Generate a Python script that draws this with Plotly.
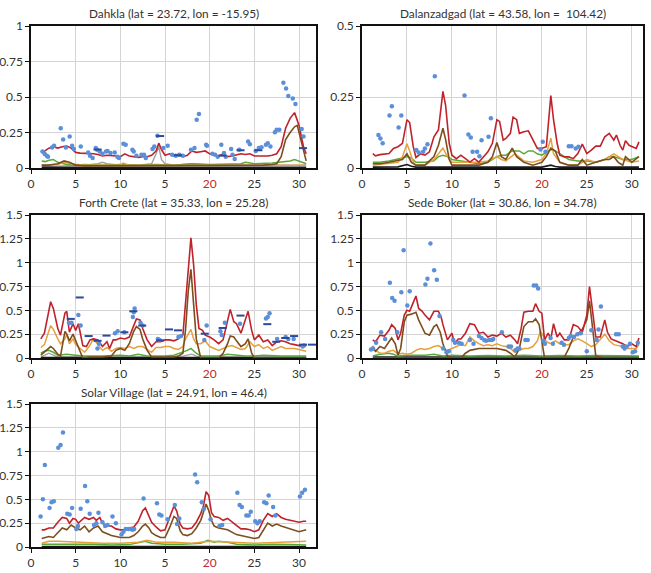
import plotly.graph_objects as go

# ---------------- data (day of month, value) ----------------
days_ticks = [0, 5, 10, 15, 20, 25, 30]
day_labels = ['0', '5', '10', '5', '20', '25', '30']

titles = ['Dahkla (lat = 23.72, lon = -15.95)',
          'Dalanzadgad (lat = 43.58, lon =  104.42)',
          'Forth Crete (lat = 35.33, lon = 25.28)',
          'Sede Boker (lat = 30.86, lon = 34.78)',
          'Solar Village (lat = 24.91, lon = 46.4)']

# ---- Dahkla ----
dah_red = [(1.2,0.105),(1.6,0.12),(2,0.14),(2.5,0.15),(3,0.14),(3.5,0.15),(4,0.155),(4.5,0.14),(5,0.11),(5.5,0.105),
           (6,0.105),(7,0.1),(7.5,0.095),(8,0.085),(8.5,0.09),(9,0.09),(9.5,0.085),(10,0.08),(10.5,0.1),(11,0.085),
           (11.5,0.08),(12,0.075),(12.5,0.08),(13,0.08),(13.5,0.09),(14,0.12),(14.3,0.175),(14.6,0.13),(15,0.09),(15.5,0.1),
           (16,0.085),(16.5,0.09),(17,0.08),(17.5,0.09),(18,0.12),(18.5,0.11),(19,0.115),(19.5,0.12),(20,0.1),(20.5,0.09),
           (21,0.085),(21.5,0.1),(22,0.08),(22.5,0.085),(23,0.09),(23.5,0.1),(24,0.095),(24.5,0.1),(25,0.085),(25.5,0.085),
           (26,0.08),(26.5,0.085),(27,0.09),(27.5,0.1),(28,0.15),(28.5,0.28),(29,0.35),(29.5,0.39),(30,0.3),(30.5,0.15),(30.8,0.1)]
dah_brown = [(1.2,0.02),(2,0.02),(3,0.03),(3.7,0.05),(4.3,0.04),(5,0.02),(6,0.015),(8,0.015),(10,0.015),(12,0.015),
             (14,0.02),(16,0.015),(18,0.02),(20,0.015),(22,0.015),(24,0.02),(26,0.02),(27,0.025),(27.5,0.03),(28,0.08),
             (28.5,0.2),(29,0.25),(29.5,0.29),(29.8,0.3),(30.2,0.2),(30.5,0.12),(30.8,0.05)]
dah_orange = [(1.2,0.02),(3,0.025),(3.7,0.04),(4.5,0.03),(6,0.02),(8,0.02),(10,0.02),(10.3,0.035),(11,0.02),(14,0.02),
              (16,0.02),(18,0.02),(20,0.02),(22,0.015),(24,0.02),(26,0.02),(28,0.02),(30,0.02),(30.8,0.02)]
dah_gray = [(1.2,0.01),(4,0.015),(6,0.02),(7.5,0.03),(8,0.04),(8.5,0.03),(10,0.02),(12,0.02),(13.5,0.03),(14,0.1),
            (14.3,0.15),(14.6,0.06),(15,0.03),(16,0.02),(18,0.03),(20,0.02),(22,0.02),(25,0.02),(28,0.02),(30.8,0.02)]
dah_green = [(1.2,0.05),(1.6,0.045),(2,0.055),(2.5,0.06),(3,0.04),(3.5,0.03),(4,0.025),(5,0.02),(6,0.025),(8,0.02),
             (10,0.025),(12,0.02),(14,0.025),(16,0.02),(18,0.03),(20,0.025),(22,0.03),(23.5,0.03),(24,0.04),(24.5,0.035),
             (25,0.03),(27,0.035),(28,0.04),(29,0.05),(29.5,0.06),(30,0.05),(30.8,0.03)]
dah_black = [(1.2,0.005),(10,0.005),(20,0.005),(30.8,0.005)]
dah_obs = [(1.28,0.117),(1.54,0.098),(1.76,0.086),(1.9,0.08),(2.36,0.145),(2.58,0.157),(3.33,0.28),(3.6,0.2),(3.9,0.145),
           (4.33,0.222),(4.6,0.157),(4.8,0.133),(5.57,0.152),(6.4,0.11),(6.6,0.086),(6.9,0.07),(7.25,0.14),(7.4,0.128),
           (7.7,0.117),(8.0,0.1),(8.4,0.117),(8.56,0.12),(8.9,0.105),(9.37,0.11),(9.67,0.08),(9.85,0.07),(10.34,0.17),
           (10.6,0.163),(11.35,0.128),(11.5,0.117),(11.8,0.086),(12.36,0.093),(12.65,0.093),(12.85,0.07),(13.6,0.133),
           (13.8,0.152),(14.15,0.227),(14.8,0.14),(15.3,0.157),(15.8,0.093),(16.2,0.086),(16.6,0.093),(17.0,0.086),
           (17.9,0.128),(18.3,0.14),(18.55,0.34),(18.8,0.38),(19.6,0.163),(19.7,0.157),(20.3,0.1),(20.6,0.093),
           (20.9,0.08),(21.3,0.163),(21.6,0.105),(21.8,0.08),(22.4,0.133),(22.55,0.093),(22.8,0.063),(23.3,0.128),
           (24.3,0.187),(24.5,0.168),(25.15,0.12),(25.5,0.14),(25.8,0.147),(26.3,0.163),(26.5,0.175),(26.8,0.152),
           (27.3,0.252),(27.5,0.27),(27.8,0.27),(28.25,0.6),(28.55,0.56),(28.8,0.507),(29.3,0.49),(29.6,0.45),
           (30.3,0.275),(30.5,0.222)]
dah_daily = [(7,0.13),(14,0.225),(16,0.09),(21,0.087),(23,0.125),(25,0.125),(30,0.14)]

# ---- Dalanzadgad ----
dal_red = [(1.2,0.051),(1.5,0.043),(2,0.047),(3,0.051),(3.5,0.069),(4,0.075),(4.5,0.087),(5,0.17),(5.3,0.16),(5.7,0.075),
           (6,0.037),(6.5,0.05),(7,0.045),(7.5,0.057),(8,0.11),(8.5,0.134),(9,0.27),(9.3,0.22),(9.7,0.087),(10,0.045),
           (10.5,0.033),(11,0.045),(11.5,0.033),(12,0.021),(12.5,0.033),(13,0.021),(13.5,0.039),(14,0.057),(14.5,0.087),(15,0.17),
           (15.3,0.164),(15.7,0.098),(16,0.104),(16.5,0.122),(16.8,0.179),(17.2,0.17),(17.5,0.122),(18,0.128),(18.5,0.131),(19,0.098),
           (19.5,0.069),(20,0.069),(20.5,0.075),(21,0.255),(21.3,0.17),(21.7,0.087),(22,0.045),(22.5,0.039),(23,0.039),(23.5,0.033),
           (24,0.051),(24.5,0.084),(25,0.051),(25.5,0.063),(26,0.077),(26.5,0.077),(27,0.11),(27.5,0.122),(28,0.098),(28.3,0.116),
           (28.7,0.08),(29,0.063),(29.3,0.096),(29.7,0.08),(30,0.075),(30.5,0.069),(30.8,0.092)]
dal_brown = [(1.2,0.015),(2,0.015),(3,0.02),(4,0.025),(4.5,0.03),(5,0.05),(5.5,0.02),(6,0.01),(7,0.01),(8,0.04),
             (8.5,0.08),(9,0.14),(9.3,0.1),(9.7,0.03),(10,0.01),(11,0.01),(12,0.01),(13,0.01),(14,0.02),(14.5,0.04),
             (15,0.09),(15.5,0.04),(16,0.03),(16.7,0.07),(17.2,0.04),(18,0.02),(19,0.01),(20,0.02),(20.5,0.04),(21,0.07),
             (21.5,0.06),(22,0.02),(23,0.01),(24,0.01),(24.5,0.03),(25,0.01),(26,0.02),(27,0.03),(27.5,0.03),(28,0.04),
             (28.5,0.02),(29,0.01),(29.3,0.04),(30,0.02),(30.8,0.04)]
dal_orange = [(1.2,0.01),(3,0.015),(4,0.02),(4.5,0.04),(5,0.085),(5.3,0.06),(5.7,0.02),(6,0.01),(7,0.01),(8,0.03),
              (9,0.07),(9.5,0.04),(10,0.02),(11,0.02),(12,0.02),(13,0.02),(14,0.025),(15,0.04),(15.5,0.03),(16,0.025),
              (17,0.05),(18,0.025),(19,0.02),(20,0.03),(20.5,0.05),(21,0.105),(21.3,0.05),(22,0.02),(23,0.01),(24,0.01),
              (25,0.03),(26,0.02),(27,0.03),(28,0.05),(29,0.03),(30,0.02),(30.8,0.025)]
dal_green = [(1.2,0.02),(2,0.02),(3,0.025),(4,0.03),(4.5,0.035),(5,0.04),(5.5,0.035),(6,0.02),(7,0.02),(8,0.025),
             (8.5,0.04),(9,0.045),(9.5,0.04),(10,0.03),(11,0.025),(12,0.02),(13,0.015),(14,0.02),(15,0.04),(15.5,0.045),
             (16,0.045),(16.7,0.06),(17.5,0.06),(18,0.05),(18.5,0.06),(19,0.06),(19.5,0.05),(20,0.045),(21,0.065),(21.5,0.06),
             (22,0.05),(23,0.03),(24,0.025),(25,0.025),(26,0.02),(27,0.03),(27.5,0.04),(28,0.04),(29,0.03),(30,0.03),(30.8,0.04)]
dal_black = [(1.2,0.003),(4,0.004),(5,0.012),(5.5,0.006),(6,0.003),(10,0.003),(15,0.003),(20,0.003),(21,0.01),
             (21.5,0.005),(22,0.003),(26,0.003),(30.8,0.003)]
dal_obs = [(1.83,0.116),(2.05,0.104),(2.3,0.087),(3.06,0.185),(3.32,0.217),(4.07,0.143),(4.37,0.185),(6.05,0.063),
           (6.3,0.055),(6.8,0.057),(7.0,0.069),(7.28,0.084),(8.1,0.323),(11.4,0.255),(11.83,0.118),(12.1,0.107),
           (12.3,0.057),(12.8,0.057),(13.06,0.041),(13.3,0.098),(14.07,0.11),(14.33,0.175),(19.85,0.065),(20.1,0.092),
           (20.4,0.057),(23.0,0.077),(23.3,0.077),(23.77,0.069),(24.07,0.075)]

# ---- Forth Crete ----
fc_red = [(1.1,0.2),(1.5,0.26),(2.2,0.59),(2.5,0.52),(3,0.31),(3.3,0.24),(3.8,0.47),(4,0.49),(4.3,0.27),(4.7,0.36),
          (5,0.29),(5.3,0.36),(5.5,0.27),(5.8,0.13),(6.2,0.12),(6.6,0.19),(7,0.2),(7.5,0.19),(8,0.12),(8.5,0.17),
          (8.8,0.1),(9.2,0.19),(9.5,0.19),(10,0.21),(10.5,0.2),(11,0.22),(11.5,0.34),(11.8,0.41),(12.2,0.4),(12.5,0.31),
          (13,0.19),(13.5,0.12),(14,0.17),(14.5,0.17),(15,0.19),(15.5,0.19),(16,0.18),(16.5,0.2),(17,0.24),(17.3,0.56),
          (17.6,0.91),(17.9,1.26),(18.2,0.98),(18.5,0.56),(18.8,0.31),(19.2,0.29),(19.5,0.24),(20,0.22),(20.5,0.19),(21,0.15),
          (21.5,0.19),(21.8,0.31),(22.3,0.51),(22.7,0.38),(23,0.36),(23.5,0.26),(24,0.4),(24.3,0.49),(24.7,0.29),(25,0.19),
          (25.5,0.24),(26,0.17),(26.5,0.19),(27,0.13),(27.5,0.17),(28,0.18),(28.5,0.17),(29,0.15),(29.5,0.14),(30,0.13),
          (30.5,0.12),(30.8,0.13)]
fc_orange = [(1.1,0.11),(1.5,0.14),(2.2,0.34),(2.5,0.3),(3,0.2),(3.3,0.15),(3.8,0.2),(4,0.25),(4.3,0.15),(4.7,0.2),
             (5,0.14),(5.5,0.1),(6,0.06),(6.5,0.12),(7,0.2),(7.5,0.14),(8,0.08),(8.5,0.11),(9,0.07),(9.5,0.1),
             (10,0.11),(10.5,0.1),(11,0.12),(11.5,0.1),(12,0.12),(12.5,0.12),(13,0.09),(13.5,0.06),(14,0.11),(14.5,0.11),
             (15,0.12),(15.5,0.12),(16,0.1),(16.5,0.09),(17,0.12),(17.3,0.2),(17.6,0.25),(17.9,0.3),(18.2,0.2),(18.5,0.15),
             (19,0.15),(19.5,0.18),(20,0.12),(20.5,0.1),(21,0.08),(21.5,0.1),(22,0.12),(22.5,0.13),(23,0.11),(23.5,0.09),
             (24,0.1),(24.5,0.17),(25,0.12),(25.5,0.14),(26,0.1),(26.5,0.12),(27,0.08),(27.5,0.1),(28,0.12),(28.5,0.1),
             (29,0.1),(29.5,0.1),(30,0.09),(30.5,0.08),(30.8,0.07)]
fc_brown = [(1.1,0.03),(1.5,0.06),(2.2,0.12),(2.5,0.1),(3,0.04),(3.3,0.02),(3.8,0.28),(4,0.25),(4.3,0.18),(4.7,0.25),
            (5,0.18),(5.5,0.05),(5.8,0.0),(6.5,0.01),(7,0.01),(8,0.01),(9,0.02),(9.5,0.08),(10,0.1),(10.5,0.08),
            (11,0.15),(11.5,0.28),(11.8,0.33),(12.2,0.3),(12.5,0.2),(13,0.08),(13.5,0.01),(14,0.01),(15,0.01),(16,0.01),
            (16.5,0.02),(17,0.05),(17.3,0.3),(17.6,0.7),(17.9,0.93),(18.2,0.6),(18.5,0.2),(19,0.0),(20,0.0),(21,0.0),
            (21.5,0.05),(22,0.15),(22.3,0.23),(22.7,0.22),(23,0.18),(23.5,0.12),(24,0.15),(24.3,0.2),(24.7,0.05),(25,0.0),
            (27,0.0),(30.8,0.0)]
fc_green = [(1.1,0.05),(1.5,0.07),(2,0.08),(2.5,0.06),(3,0.03),(4,0.04),(5,0.03),(6,0.02),(8,0.02),(10,0.03),
            (11,0.02),(12,0.04),(13,0.02),(15,0.02),(16,0.03),(17,0.06),(17.5,0.08),(17.9,0.1),(18.5,0.05),(19,0.02),
            (21,0.02),(22,0.04),(23,0.03),(24,0.02),(25,0.02),(26,0.03),(28,0.02),(30,0.02),(30.8,0.02)]
fc_gray = [(1.1,0.01),(1.5,0.03),(2,0.05),(2.5,0.03),(3,0.01),(6,0.01),(10,0.01),(14,0.01),(17,0.02),(17.5,0.03),
           (18,0.04),(18.5,0.02),(19,0.01),(24,0.01),(30.8,0.01)]
fc_black = [(1.1,0.005),(10,0.005),(20,0.005),(30.8,0.005)]
fc_obs = [(4.25,0.37),(4.53,0.37),(5.3,0.45),(5.56,0.34),(7.44,0.1),(7.6,0.15),(9.4,0.26),(9.7,0.28),(10.45,0.27),
          (11.4,0.43),(11.5,0.48),(11.6,0.52),(12.26,0.37),(12.5,0.34),(14.2,0.2),(14.4,0.19),(16.5,0.22),(16.8,0.23),
          (19.4,0.19),(19.66,0.34),(21.2,0.28),(21.35,0.24),(21.7,0.37),(23.4,0.36),(26.3,0.415),(26.5,0.43),(26.7,0.47),
          (27.55,0.2),(28.5,0.22),(28.8,0.2),(29.4,0.2),(30.4,0.12),(30.55,0.13)]
fc_daily = [(4,0.41),(5,0.635),(6,0.23),(7,0.18),(8,0.235),(10,0.27),(11,0.49),(12,0.34),(14,0.185),(15,0.3),
            (16,0.29),(19,0.255),(21,0.315),(23,0.445),(26,0.355),(27,0.17),(28,0.21),(29,0.23),(30,0.14),(31,0.14)]

# ---- Sede Boker ----
sb_red = [(1.2,0.19),(1.5,0.17),(2,0.24),(2.5,0.23),(3,0.29),(3.3,0.35),(3.7,0.31),(4,0.19),(4.3,0.26),(4.7,0.45),
          (5,0.5),(5.3,0.49),(5.6,0.56),(6,0.65),(6.3,0.52),(6.7,0.49),(7,0.45),(7.5,0.4),(8,0.49),(8.5,0.49),
          (8.8,0.43),(9,0.35),(9.5,0.19),(10,0.26),(10.3,0.15),(10.7,0.2),(11,0.2),(11.5,0.26),(12,0.36),(12.5,0.35),
          (13,0.26),(13.5,0.27),(14,0.22),(14.5,0.24),(15,0.23),(15.5,0.26),(16,0.22),(16.5,0.24),(17,0.19),(17.3,0.15),
          (17.7,0.31),(18,0.48),(18.5,0.49),(19,0.49),(19.3,0.57),(19.7,0.49),(20,0.47),(20.3,0.19),(20.7,0.26),(21,0.2),
          (21.3,0.36),(21.7,0.22),(22,0.26),(22.5,0.19),(23,0.19),(23.5,0.35),(24,0.33),(24.5,0.27),(25,0.45),(25.3,0.75),
          (25.7,0.45),(26,0.22),(26.5,0.22),(27,0.4),(27.3,0.27),(27.7,0.2),(28,0.19),(28.5,0.17),(29,0.15),(29.5,0.12),
          (30,0.15),(30.5,0.12),(30.8,0.21)]
sb_brown = [(1.2,0.1),(1.5,0.07),(2,0.12),(2.5,0.1),(3,0.17),(3.3,0.21),(3.7,0.15),(4,0.03),(4.3,0.1),(4.7,0.38),
            (5,0.45),(5.5,0.46),(6,0.48),(6.3,0.4),(6.7,0.32),(7,0.26),(7.5,0.24),(8,0.33),(8.3,0.35),(8.7,0.27),
            (9,0.15),(9.5,0.02),(10,0.0),(11,0.0),(11.5,0.05),(12,0.08),(13,0.1),(14,0.1),(15,0.1),(16,0.08),
            (16.5,0.05),(17,0.01),(17.5,0.1),(18,0.33),(18.5,0.38),(19,0.38),(19.3,0.41),(19.7,0.35),(20,0.15),(20.3,0.0),
            (21,0.0),(22,0.0),(22.5,0.01),(23,0.1),(23.5,0.22),(24,0.25),(24.5,0.3),(25,0.4),(25.3,0.6),(25.7,0.3),
            (26,0.02),(27,0.0),(30.8,0.0)]
sb_orange = [(1.2,0.13),(1.5,0.08),(2,0.05),(2.5,0.05),(3,0.07),(3.5,0.08),(4,0.04),(4.5,0.05),(5,0.04),(5.5,0.05),
             (6,0.08),(6.5,0.1),(7,0.09),(7.5,0.1),(8,0.12),(8.5,0.13),(9,0.1),(9.5,0.08),(10,0.1),(10.5,0.12),
             (11,0.14),(11.5,0.13),(12,0.22),(12.5,0.18),(13,0.15),(13.5,0.13),(14,0.14),(14.5,0.13),(15,0.15),(15.5,0.13),
             (16,0.12),(16.5,0.1),(17,0.06),(17.5,0.08),(18,0.1),(18.5,0.1),(19,0.12),(19.5,0.18),(19.8,0.27),(20,0.26),
             (20.5,0.17),(21,0.15),(21.5,0.18),(22,0.15),(22.5,0.14),(23,0.14),(23.5,0.18),(24,0.2),(24.5,0.18),(25,0.15),
             (25.5,0.12),(26,0.14),(26.5,0.19),(27,0.25),(27.5,0.18),(28,0.14),(28.5,0.13),(29,0.12),(29.5,0.1),(30,0.1),
             (30.5,0.1),(30.8,0.14)]
sb_green = [(1.2,0.02),(2,0.04),(3,0.05),(3.5,0.04),(4,0.02),(5,0.03),(6,0.03),(7,0.03),(8,0.04),(9,0.02),
            (10,0.03),(12,0.02),(14,0.025),(16,0.02),(18,0.03),(20,0.02),(22,0.025),(24,0.02),(26,0.025),(28,0.02),(30.8,0.02)]
sb_black = [(1.2,0.01),(10,0.01),(20,0.01),(30.8,0.01)]
sb_obs = [(1.0,0.09),(1.2,0.1),(1.57,0.16),(2.13,0.27),(2.57,0.2),(3.1,0.79),(3.36,0.63),(3.62,0.6),(3.92,0.27),
          (4.37,0.69),(4.63,1.13),(5.04,0.55),(5.3,0.7),(7.05,0.77),(7.28,0.83),(7.61,1.2),(8.02,0.92),(8.32,0.82),
          (8.62,0.44),(9.03,0.1),(9.4,0.06),(9.66,0.07),(10.15,0.19),(10.34,0.16),(10.78,0.16),(11.08,0.15),(12.0,0.19),
          (12.4,0.15),(13.0,0.23),(13.3,0.21),(13.6,0.19),(13.8,0.18),(14.14,0.19),(14.44,0.19),(14.6,0.2),(15.56,0.27),
          (16.3,0.12),(16.57,0.12),(17.05,0.08),(17.3,0.1),(17.5,0.1),(18.17,0.19),(18.43,0.19),(19.1,0.76),(19.37,0.76),
          (19.59,0.73),(20.15,0.18),(20.34,0.15),(20.97,0.21),(21.23,0.15),(22.2,0.16),(22.46,0.14),(23.0,0.21),(23.2,0.23),
          (23.58,0.22),(23.95,0.25),(24.33,0.26),(25.0,0.07),(25.5,0.29),(26.1,0.19),(26.3,0.3),(26.57,0.54),(28.25,0.25),
          (28.55,0.25),(29.0,0.12),(29.2,0.1),(29.44,0.12),(29.8,0.15),(30.1,0.06),(30.37,0.07),(30.67,0.16)]

# ---- Solar Village ----
sv_red = [(1.2,0.18),(1.5,0.18),(2,0.2),(2.5,0.2),(3,0.26),(3.5,0.31),(4,0.3),(4.3,0.25),(4.7,0.3),(5,0.29),
          (5.3,0.25),(5.7,0.29),(6,0.31),(6.5,0.29),(7,0.31),(7.3,0.28),(7.7,0.31),(8,0.25),(8.5,0.22),(9,0.22),
          (9.5,0.19),(10,0.18),(10.5,0.18),(11,0.2),(11.5,0.21),(12,0.27),(12.5,0.38),(12.8,0.41),(13.2,0.33),(13.5,0.26),
          (14,0.21),(14.5,0.17),(15,0.18),(15.5,0.31),(16,0.43),(16.3,0.38),(16.7,0.24),(17,0.2),(17.5,0.19),(18,0.2),
          (18.5,0.26),(19,0.35),(19.3,0.43),(19.6,0.58),(19.9,0.54),(20.2,0.36),(20.5,0.32),(21,0.31),(21.5,0.28),(22,0.3),
          (22.5,0.26),(23,0.22),(23.5,0.19),(24,0.19),(24.5,0.18),(25,0.16),(25.5,0.18),(26,0.28),(26.5,0.35),(27,0.32),
          (27.5,0.35),(28,0.31),(28.5,0.29),(29,0.28),(29.5,0.27),(30,0.26),(30.5,0.27),(30.8,0.27)]
sv_brown = [(1.2,0.09),(1.5,0.1),(2,0.11),(2.5,0.1),(3,0.15),(3.5,0.2),(4,0.18),(4.5,0.23),(5,0.2),(5.5,0.18),
            (6,0.22),(6.5,0.16),(7,0.2),(7.5,0.22),(8,0.16),(8.5,0.14),(9,0.12),(9.5,0.11),(10,0.1),(11,0.1),
            (11.5,0.12),(12,0.16),(12.5,0.22),(12.8,0.24),(13.2,0.2),(13.5,0.15),(14,0.12),(14.5,0.1),(15,0.1),(15.5,0.2),
            (16,0.32),(16.3,0.3),(16.7,0.17),(17,0.13),(17.5,0.12),(18,0.14),(18.5,0.2),(19,0.28),(19.3,0.36),(19.6,0.45),
            (19.9,0.38),(20.2,0.28),(20.5,0.22),(21,0.2),(22,0.18),(23,0.13),(24,0.11),(25,0.09),(25.5,0.1),(26,0.18),
            (26.5,0.25),(27,0.22),(27.5,0.24),(28,0.22),(29,0.19),(30,0.16),(30.8,0.18)]
sv_orange = [(1.2,0.04),(2,0.06),(3,0.06),(5,0.05),(8,0.04),(10,0.04),(12,0.05),(13,0.07),(14,0.05),(16,0.05),
             (18,0.04),(20,0.06),(22,0.05),(25,0.04),(28,0.05),(30,0.06),(30.8,0.06)]
sv_green = [(1.2,0.03),(3,0.03),(5,0.025),(7,0.03),(9,0.02),(11,0.025),(12.8,0.06),(13.5,0.04),(15,0.03),(17,0.03),
            (19,0.04),(19.8,0.07),(20.5,0.05),(21,0.06),(22,0.05),(23,0.03),(25,0.02),(27,0.03),(29,0.025),(30.8,0.02)]
sv_black = [(1.2,0.005),(10,0.005),(20,0.005),(30.8,0.005)]
sv_obs = [(1.07,0.32),(1.33,0.5),(1.55,0.86),(2.08,0.41),(2.3,0.47),(2.56,0.48),(3.05,1.04),(3.31,1.07),(3.58,1.2),
          (4.06,0.35),(4.33,0.34),(4.6,0.41),(5.07,0.19),(5.26,0.22),(5.56,0.4),(6.05,0.64),(6.3,0.48),(6.57,0.35),
          (7.06,0.23),(7.32,0.25),(7.55,0.36),(8.0,0.26),(8.3,0.22),(8.56,0.23),(9.12,0.32),(9.5,0.25),(10.13,0.13),
          (10.35,0.16),(10.6,0.19),(10.88,0.19),(11.18,0.19),(11.37,0.18),(11.55,0.19),(12.6,0.51),(14.1,0.46),(14.36,0.34),
          (14.6,0.33),(15.3,0.29),(16.1,0.44),(16.35,0.24),(16.6,0.3),(18.37,0.76),(18.6,0.68),(19.12,0.47),(19.35,0.4),
          (20.1,0.29),(21.1,0.22),(21.4,0.23),(23.1,0.57),(23.35,0.44),(23.6,0.42),(24.1,0.33),(24.36,0.33),(24.6,0.37),
          (25.1,0.27),(25.34,0.25),(25.6,0.27),(26.1,0.47),(26.35,0.46),(26.6,0.54),(27.1,0.42),(27.36,0.33),(30.1,0.53),
          (30.35,0.57),(30.66,0.6)]

stations = [
    dict(red=dah_red, brown=dah_brown, orange=dah_orange, gray=dah_gray, green=dah_green, black=dah_black, obs=dah_obs, daily=dah_daily),
    dict(red=dal_red, brown=dal_brown, orange=dal_orange, gray=None, green=dal_green, black=dal_black, obs=dal_obs, daily=None),
    dict(red=fc_red, brown=fc_brown, orange=fc_orange, gray=fc_gray, green=fc_green, black=fc_black, obs=fc_obs, daily=fc_daily),
    dict(red=sb_red, brown=sb_brown, orange=sb_orange, gray=None, green=sb_green, black=sb_black, obs=sb_obs, daily=None),
    dict(red=sv_red, brown=sv_brown, orange=sv_orange, gray=None, green=sv_green, black=sv_black, obs=sv_obs, daily=None),
]
y_max = [1.0, 0.5, 1.5, 1.5, 1.5]
x_max = [31.9, 31.25, 31.9, 31.25, 31.9]

# ---------------- layout geometry ----------------
W, H = 651, 573
col_px = [(31, 316), (362, 643)]
row_px = [(26, 168), (215, 358), (404, 547)]
cells = [(0, 0), (0, 1), (1, 0), (1, 1), (2, 0)]

line_styles = [('gray', '#a0a0a0', 1.4), ('black', '#1a1a1a', 1.6), ('green', '#5aa83a', 1.5),
               ('orange', '#e6a03c', 1.5), ('brown', '#7d4e1c', 1.6), ('red', '#c0222c', 1.6)]

fig = go.Figure()
layout = dict(width=W, height=H, margin=dict(l=0, r=0, t=0, b=0, pad=0), showlegend=False,
              plot_bgcolor='white', paper_bgcolor='white',
              font=dict(family='Lato, Open Sans, sans-serif', size=12, color='#333333'))
annotations = []
tick_text = [('<span style="color:#c0282d">%s</span>' % t) if v == 20 else t for v, t in zip(days_ticks, day_labels)]

for i, (st, (r, c)) in enumerate(zip(stations, cells)):
    n = '' if i == 0 else str(i + 1)
    xa, ya = 'x' + n, 'y' + n
    for key, color, w in line_styles:
        data = st[key]
        if data is None:
            continue
        fig.add_trace(go.Scatter(x=[p[0] for p in data], y=[p[1] for p in data], mode='lines',
                                 line=dict(color=color, width=w), xaxis=xa, yaxis=ya, hoverinfo='skip'))
    obs = st['obs']
    fig.add_trace(go.Scatter(x=[p[0] for p in obs], y=[p[1] for p in obs], mode='markers',
                             marker=dict(color='#5b8fd8', size=4.5), xaxis=xa, yaxis=ya))
    if st['daily']:
        dx, dy = [], []
        for d, v in st['daily']:
            dx += [d, d + 0.9, None]
            dy += [v, v, None]
        fig.add_trace(go.Scatter(x=dx, y=dy, mode='lines', line=dict(color='#2a4a9c', width=2),
                                 xaxis=xa, yaxis=ya, connectgaps=False))
    x0, x1 = col_px[c]
    y0, y1 = row_px[r]
    dom_x = [x0 / W, x1 / W]
    dom_y = [1 - y1 / H, 1 - y0 / H]
    ym = y_max[i]
    yt = [k * 0.25 for k in range(int(round(ym / 0.25)) + 1)]
    ytl = [('%g' % v) for v in yt]
    common = dict(showgrid=True, gridcolor='#d4d4d4', gridwidth=1.3, zeroline=False, automargin=False,
                  showline=True, linecolor='#111111', linewidth=1.5, mirror=True,
                  ticks='outside', ticklen=4, tickcolor='#111111', tickfont=dict(size=12, color='#333333'))
    layout['xaxis' + n] = dict(domain=dom_x, anchor=ya, range=[0, x_max[i]], tickvals=days_ticks,
                               ticktext=tick_text, **common)
    layout['yaxis' + n] = dict(domain=dom_y, anchor=xa, range=[0, ym], tickvals=yt, ticktext=ytl, **common)
    annotations.append(dict(text=titles[i], xref='paper', yref='paper', x=(dom_x[0] + dom_x[1]) / 2,
                            y=1 - (y0 - 12) / H, xanchor='center', yanchor='middle', showarrow=False,
                            font=dict(size=11.8, color='#333333')))

layout['annotations'] = annotations
fig.update_layout(**layout)
fig.write_html('out.html', config={'displayModeBar': False},
               post_script="document.body.style.margin='0';document.body.style.padding='0';")
